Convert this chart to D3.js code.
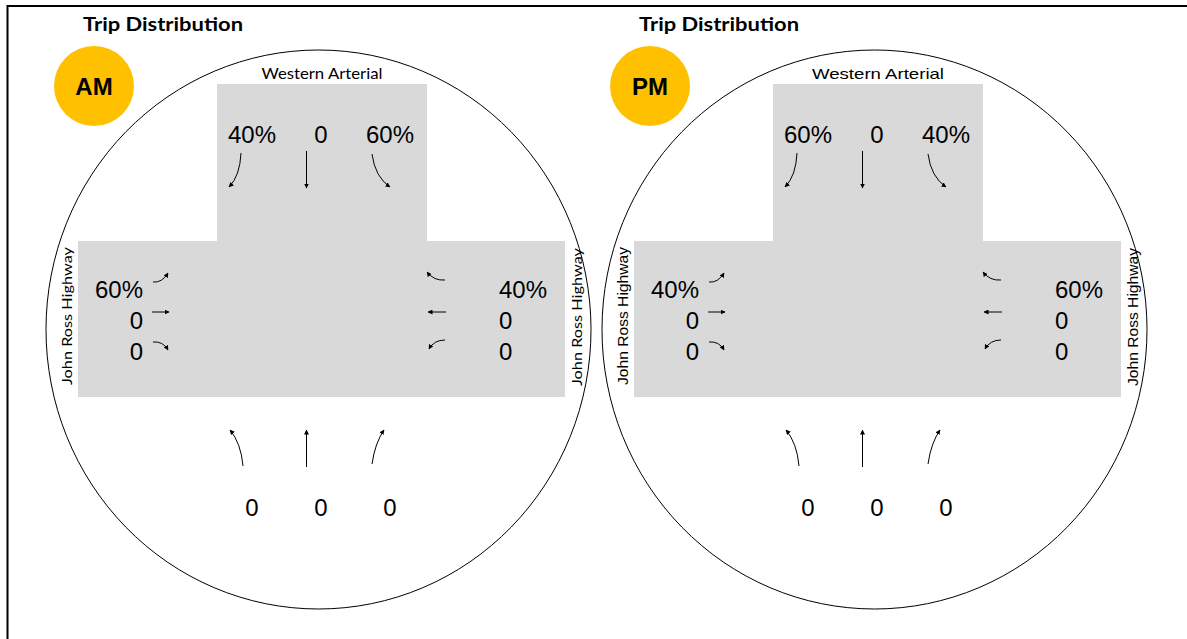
<!DOCTYPE html>
<html>
<head>
<meta charset="utf-8">
<script src="https://cdn.jsdelivr.net/npm/d3@7"></script>
<style>
  html, body { margin: 0; padding: 0; background: #fff; }
  svg { display: block; }
</style>
</head>
<body>
<svg id="chart" width="1187" height="639"></svg>
<script>
// ---------- DATA ----------
const panels = ["AM", "PM"];
const panelTitle = "Trip Distribution";
const northRoad = "Western Arterial";
const sideRoad = "John Ross Highway";
// values per approach (3 movements each), AM then PM
const northAM = ["40%", "0", "60%"];
const westAM  = ["60%", "0", "0"];
const eastAM  = ["40%", "0", "0"];
const southAM = ["0", "0", "0"];
const northPM = ["60%", "0", "40%"];
const westPM  = ["40%", "0", "0"];
const eastPM  = ["60%", "0", "0"];
const southPM = ["0", "0", "0"];
const lanes = [0, 1, 2];

const valuesByPanel = {
  AM: { north: northAM, west: westAM, east: eastAM, south: southAM },
  PM: { north: northPM, west: westPM, east: eastPM, south: southPM }
};

// ---------- SCALES ----------
const svg = d3.select("#chart");
const panelX = d3.scalePoint().domain(panels).range([0, 556]);
const laneLabelX = d3.scalePoint().domain(lanes).range([252, 390]);  // north/south label centres
const laneArrowX = d3.scalePoint().domain(lanes).range([241, 372]);  // north/south arrow bases
const laneLabelY = d3.scalePoint().domain(lanes).range([298, 360]);  // west/east baselines

// frame
svg.append("line").attr("x1", 7).attr("y1", 6).attr("x2", 1187).attr("y2", 6)
  .attr("stroke", "#000").attr("stroke-width", 2);
svg.append("line").attr("x1", 7.5).attr("y1", 5).attr("x2", 7.5).attr("y2", 639)
  .attr("stroke", "#000").attr("stroke-width", 2);

// arrow marker
const defs = svg.append("defs");
defs.append("marker")
  .attr("id", "ah").attr("viewBox", "0 0 10 10")
  .attr("refX", 9).attr("refY", 5)
  .attr("markerWidth", 5).attr("markerHeight", 5)
  .attr("markerUnits", "userSpaceOnUse")
  .attr("orient", "auto")
  .append("path").attr("d", "M0,0 L10,5 L0,10 Z").attr("fill", "#000");

const numFont = "'Liberation Sans', Arial, sans-serif";

panels.forEach(p => {
  const ox = panelX(p);
  const g = svg.append("g").attr("transform", `translate(${ox},0)`);
  const v = valuesByPanel[p];
  const isAM = p === "AM";
  const labFont = isAM ? "Lato, 'Open Sans', sans-serif" : "'Liberation Sans', Arial, sans-serif";

  // title
  g.append("text").attr("x", 83).attr("y", 31)
    .attr("font-family", "Lato, 'Open Sans', sans-serif").attr("font-weight", "bold")
    .attr("font-size", 18).attr("textLength", 160).attr("lengthAdjust", "spacingAndGlyphs")
    .text(panelTitle);

  // badge
  g.append("circle").attr("cx", 94).attr("cy", 86).attr("r", 40).attr("fill", "#FFC000");
  g.append("text").attr("x", 94).attr("y", 95).attr("text-anchor", "middle")
    .attr("font-family", numFont).attr("font-weight", "bold").attr("font-size", 24)
    .text(p);

  // T-shaped grey area
  g.append("rect").attr("x", 217).attr("y", 84).attr("width", 210).attr("height", 158).attr("fill", "#D9D9D9");
  g.append("rect").attr("x", 78).attr("y", 241).attr("width", 487).attr("height", 156).attr("fill", "#D9D9D9");

  // ellipse
  g.append("ellipse").attr("cx", 318.5).attr("cy", 329.5).attr("rx", 272.5).attr("ry", 279.5)
    .attr("fill", "none").attr("stroke", "#000").attr("stroke-width", 1);

  // road labels
  g.append("text").attr("x", 322).attr("y", 79).attr("text-anchor", "middle")
    .attr("font-family", labFont).attr("font-size", 15)
    .attr("textLength", isAM ? 121 : 132).attr("lengthAdjust", "spacingAndGlyphs")
    .text(northRoad);
  [[67, 316], [577, 317]].forEach(([x, y]) => {
    g.append("text").attr("transform", `translate(${x + 5},${y}) rotate(-90)`)
      .attr("text-anchor", "middle")
      .attr("font-family", labFont).attr("font-size", 14)
      .attr("textLength", 138).attr("lengthAdjust", "spacingAndGlyphs")
      .text(sideRoad);
  });

  // north labels
  g.selectAll(".nl").data(lanes).enter().append("text")
    .attr("x", d => laneLabelX(d)).attr("y", 143).attr("text-anchor", "middle")
    .attr("font-family", numFont).attr("font-size", 24).text(d => v.north[d]);
  // south labels
  g.selectAll(".sl").data(lanes).enter().append("text")
    .attr("x", d => laneLabelX(d)).attr("y", 516).attr("text-anchor", "middle")
    .attr("font-family", numFont).attr("font-size", 24).text(d => v.south[d]);
  // west labels
  g.selectAll(".wl").data(lanes).enter().append("text")
    .attr("x", 143).attr("y", d => laneLabelY(d)).attr("text-anchor", "end")
    .attr("font-family", numFont).attr("font-size", 24).text(d => v.west[d]);
  // east labels
  g.selectAll(".el").data(lanes).enter().append("text")
    .attr("x", 499).attr("y", d => laneLabelY(d)).attr("text-anchor", "start")
    .attr("font-family", numFont).attr("font-size", 24).text(d => v.east[d]);

  // arrows
  const arrow = d => g.append("path").attr("d", d).attr("fill", "none")
    .attr("stroke", "#000").attr("stroke-width", 1).attr("marker-end", "url(#ah)");

  // north approach (southbound)
  const nx = lanes.map(l => laneArrowX(l));
  arrow(`M${nx[0]},153 Q${nx[0] - 1},176 ${nx[0] - 12},187`);
  arrow(`M${nx[1]},151 L${nx[1]},188`);
  arrow(`M${nx[2]},154 Q${nx[2] + 3},177 ${nx[2] + 18},187`);
  // south approach (northbound)
  arrow(`M${nx[0] + 2},466 Q${nx[0]},443 ${nx[0] - 11},430`);
  arrow(`M${nx[1]},467 L${nx[1]},430`);
  arrow(`M${nx[2]},464 Q${nx[2] + 3},443 ${nx[2] + 12},430`);

  // west approach (eastbound)
  const wy = lanes.map(l => laneLabelY(l));
  arrow(`M153,${wy[0] - 16} Q162,${wy[0] - 15} 168,${wy[0] - 25}`);
  arrow(`M152,${wy[1] - 17} L169,${wy[1] - 17}`);
  arrow(`M153,${wy[2] - 18} Q163,${wy[2] - 19} 168,${wy[2] - 10}`);
  // east approach (westbound)
  arrow(`M445,${wy[0] - 18} Q434,${wy[0] - 17} 427,${wy[0] - 26}`);
  arrow(`M446,${wy[1] - 17} L428,${wy[1] - 17}`);
  arrow(`M445,${wy[2] - 20} Q434,${wy[2] - 20} 429,${wy[2] - 11}`);
});
</script>
</body>
</html>
